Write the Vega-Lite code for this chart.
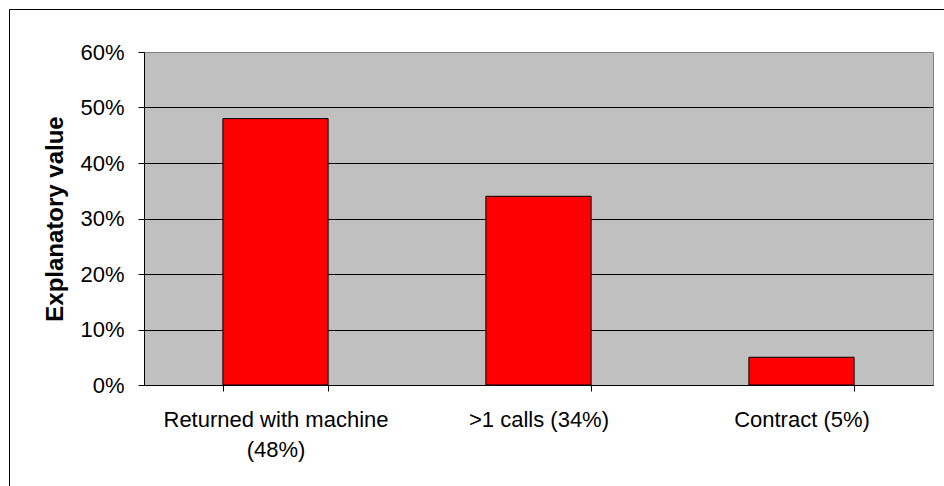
{
  "$schema": "https://vega.github.io/schema/vega-lite/v6.json",
  "width": 936,
  "height": 478,
  "autosize": {"type": "none"},
  "padding": {"left": 9, "top": 9, "right": -1, "bottom": -1},
  "background": "white",
  "config": {
    "view": {"stroke": "black", "strokeWidth": 1, "fill": "white"},
    "font": "Liberation Sans"
  },
  "data": {
    "values": [
      {"reason": "Returned with machine (48%)", "share": 0.48},
      {"reason": ">1 calls (34%)", "share": 0.34},
      {"reason": "Contract (5%)", "share": 0.05}
    ]
  },
  "encoding": {
    "x": {
      "field": "reason",
      "type": "nominal",
      "sort": null,
      "scale": {"range": [135, 924], "paddingInner": 0.6, "paddingOuter": 0.3},
      "axis": {
        "orient": "bottom",
        "offset": -102,
        "title": null,
        "labelAngle": 0,
        "tickBand": "extent",
        "tickSize": 6,
        "tickColor": "black",
        "domainColor": "black",
        "labelFontSize": 22,
        "labelColor": "black",
        "labelPadding": 18,
        "labelLineHeight": 30,
        "labelLimit": 400,
        "labelExpr": "datum.label == 'Returned with machine (48%)' ? ['Returned with machine', '(48%)'] : datum.label"
      }
    }
  },
  "layer": [
    {
      "mark": {"type": "bar", "opacity": 0},
      "encoding": {
        "y": {
          "field": "share",
          "type": "quantitative",
          "scale": {"domain": [0, 0.6], "range": [376, 43], "nice": false},
          "axis": {
            "orient": "left",
            "offset": -135,
            "title": null,
            "labels": false,
            "ticks": false,
            "domain": false,
            "values": [0.3],
            "grid": true,
            "gridColor": "#C0C0C0",
            "gridOpacity": 1,
            "gridWidth": 333
          }
        }
      }
    },
    {
      "mark": {"type": "bar", "color": "#FF0000", "stroke": "black", "strokeWidth": 1},
      "encoding": {
        "y": {
          "field": "share",
          "type": "quantitative",
          "scale": {"domain": [0, 0.6], "range": [376, 43], "nice": false},
          "axis": {
            "orient": "left",
            "offset": -135,
            "title": "Explanatory value",
            "values": [0, 0.1, 0.2, 0.3, 0.4, 0.5, 0.6],
            "format": ".0%",
            "grid": true,
            "gridColor": {"condition": {"test": "datum.value >= 0.59", "value": "#808080"}, "value": "black"},
            "gridOpacity": 1,
            "gridWidth": 1,
            "domainColor": "black",
            "tickColor": "black",
            "tickSize": 6,
            "labelFontSize": 22,
            "labelColor": "black",
            "labelPadding": 14,
            "titleFontSize": 24,
            "titleFontWeight": "bold",
            "titleColor": "black",
            "titlePadding": 12
          }
        }
      }
    },
    {
      "mark": {"type": "bar", "opacity": 0},
      "encoding": {
        "y": {
          "field": "share",
          "type": "quantitative",
          "scale": {"domain": [0, 0.6], "range": [376, 43], "nice": false},
          "axis": {
            "orient": "right",
            "offset": -12,
            "title": null,
            "labels": false,
            "ticks": false,
            "grid": false,
            "domainColor": "#808080"
          }
        }
      }
    }
  ],
  "resolve": {"axis": {"y": "independent"}}
}
